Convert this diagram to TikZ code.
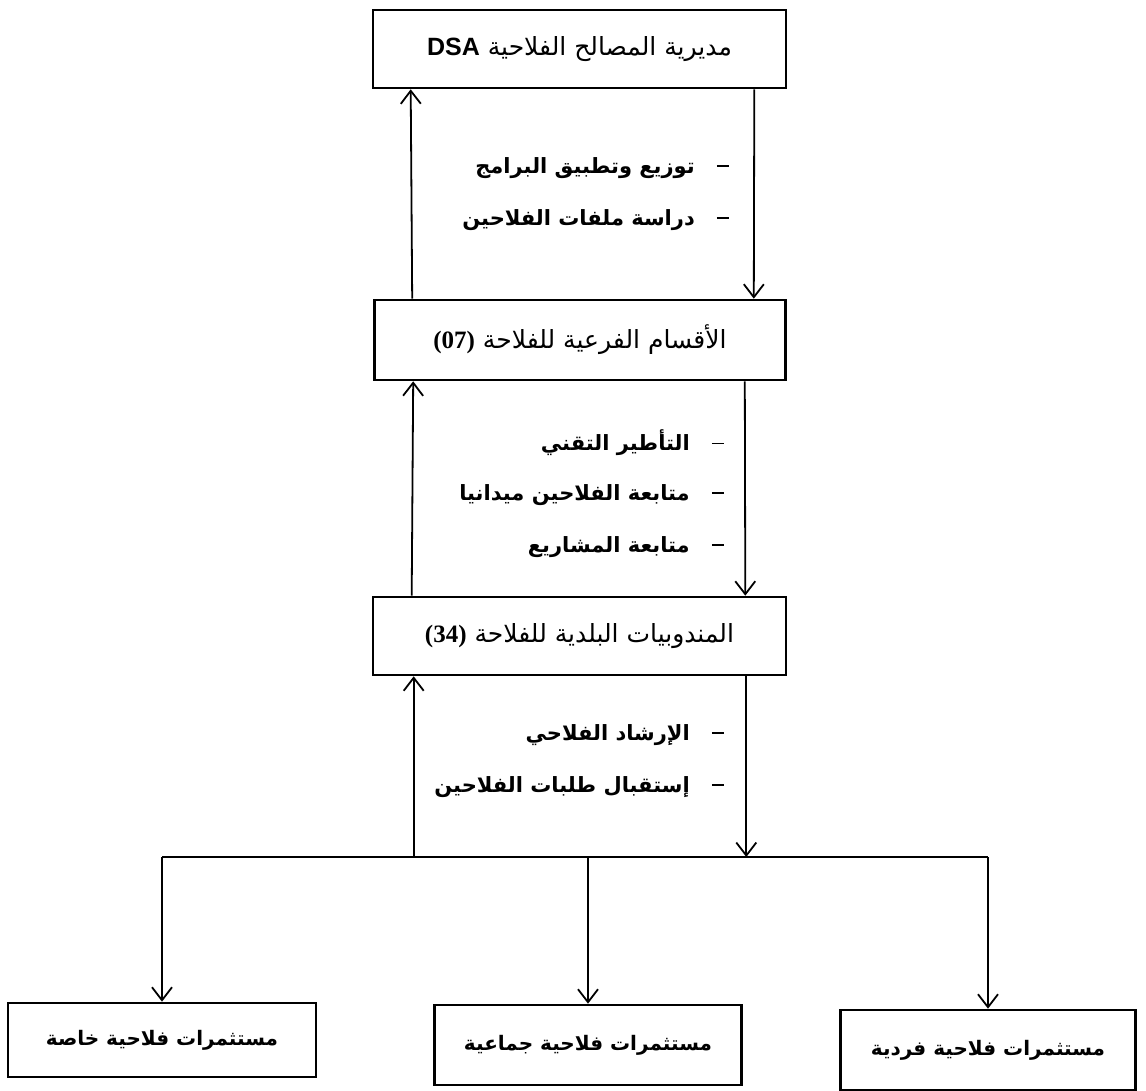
\documentclass[tikz,border=0pt]{standalone}
\usepackage{fontspec}
\usetikzlibrary{arrows.meta}
\TeXXeTstate=1
\newfontfamily\arabicfont[Script=Arabic]{DejaVu Sans}
\newfontfamily\numfont{Liberation Serif}
\newfontfamily\dsafont{Liberation Sans}
\newcommand{\dashmark}{\rule[0.32em]{12pt}{1.3pt}}
\begin{document}
\begin{tikzpicture}[x=1pt,y=-1pt,
  box/.style={draw,line width=2.6pt,minimum width=413pt,minimum height=78pt,inner sep=0pt,
    font=\arabicfont\fontsize{25}{29}\selectfont},
  lowbox/.style={box,font=\arabicfont\bfseries\fontsize{20}{24}\selectfont},
  arr/.style={line width=1.8pt,-{Straight Barb[length=13pt,width=20pt,line width=1.8pt]}},
  ln/.style={line width=2.4pt},
  item/.style={anchor=east,inner sep=0pt,font=\arabicfont\bfseries\fontsize{21}{25}\selectfont}]
\useasboundingbox (0,0) rectangle (1146,1091);
% boxes
\node[box] (b1) at (579.5,49) {\beginR مديرية المصالح الفلاحية \beginL{\dsafont\bfseries DSA}\endL\endR};
\node[box,minimum width=411pt,minimum height=80pt] (b2) at (580,340) {\beginR الأقسام الفرعية للفلاحة \beginL{\numfont\bfseries (07)}\endL\endR};
\node[box] (b3) at (579.5,636) {\beginR المندوبيات البلدية للفلاحة \beginL{\numfont\bfseries (34)}\endL\endR};
\node[lowbox,minimum width=308pt,minimum height=74pt] (l) at (162,1040) {\beginR مستثمرات فلاحية خاصة\endR};
\node[lowbox,minimum width=307pt,minimum height=80pt] (m) at (588,1045) {\beginR مستثمرات فلاحية جماعية\endR};
\node[lowbox,minimum width=295pt,minimum height=80pt] (r) at (988,1050) {\beginR مستثمرات فلاحية فردية\endR};
% bus
\coordinate (busL) at (162,857);
\coordinate (busR) at (988,857);
\draw[ln] (busL) -- (busR);
% arrows
\draw[arr] ([xshift=39pt]b2.north west) -- ([xshift=39pt]b1.south west);
\draw[arr] ([xshift=-33pt]b1.south east) -- ([xshift=-33pt]b2.north east);
\draw[arr] ([xshift=40pt]b3.north west) -- ([xshift=40pt]b2.south west);
\draw[arr] ([xshift=-42pt]b2.south east) -- ([xshift=-42pt]b3.north east);
\draw[arr] ([xshift=42pt]b3.south west |- busL) -- ([xshift=42pt]b3.south west);
\draw[arr] ([xshift=-41pt]b3.south east) -- ([xshift=-41pt]b3.south east |- busL);
\draw[arr] (busL) -- (l.north);
\draw[arr] (m.north |- busL) -- (m.north);
\draw[arr] (busR) -- (r.north);
% items
\node[item] (t1) at (729,168) {\beginR \dashmark\hspace{22pt}توزيع وتطبيق البرامج\endR};
\node[item] (t2) at (729,220) {\beginR \dashmark\hspace{22pt}دراسة ملفات الفلاحين\endR};
\node[item] (t3) at (724,443) {\beginR \dashmark\hspace{22pt}التأطير التقني\endR};
\node[item] (t4) at (724,495) {\beginR \dashmark\hspace{22pt}متابعة الفلاحين ميدانيا\endR};
\node[item] (t5) at (724,547) {\beginR \dashmark\hspace{22pt}متابعة المشاريع\endR};
\node[item] (t6) at (724,735) {\beginR \dashmark\hspace{22pt}الإرشاد الفلاحي\endR};
\node[item] (t7) at (724,787) {\beginR \dashmark\hspace{22pt}إستقبال طلبات الفلاحين\endR};
\end{tikzpicture}
\end{document}
